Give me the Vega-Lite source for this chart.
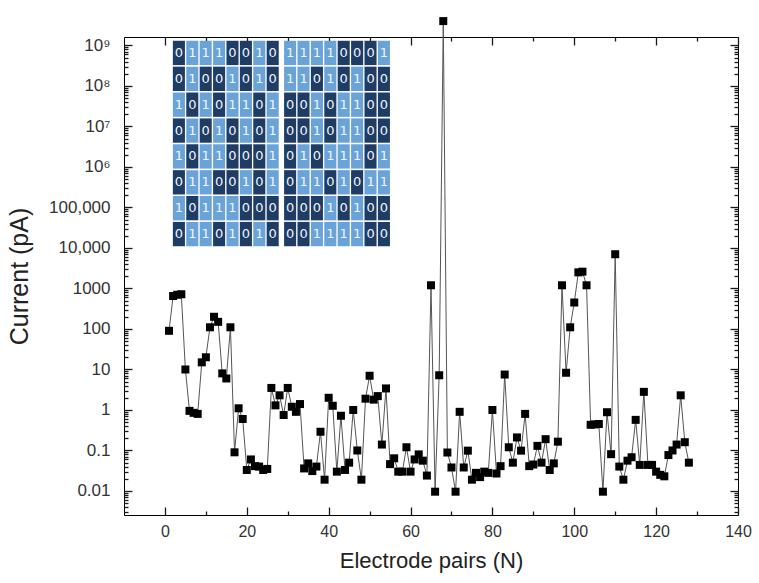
{
  "$schema": "https://vega.github.io/schema/vega-lite/v6.json",
  "width": 614,
  "height": 478,
  "autosize": "none",
  "padding": {"left": 124, "top": 37, "right": 21, "bottom": 68},
  "config": {
    "view": {"stroke": "black", "strokeWidth": 1},
    "font": "Liberation Sans",
    "axis": {"grid": false, "labelColor": "#333", "titleColor": "#222", "titleFontWeight": "normal", "labelOverlap": false}
  },
  "data": {"values": [
    {"pair":1,"current":90},{"pair":2,"current":650},{"pair":3,"current":700},{"pair":4,"current":720},{"pair":5,"current":10},{"pair":6,"current":0.95},{"pair":7,"current":0.85},{"pair":8,"current":0.8},{"pair":9,"current":15},{"pair":10,"current":20},
    {"pair":11,"current":110},{"pair":12,"current":200},{"pair":13,"current":150},{"pair":14,"current":8},{"pair":15,"current":6},{"pair":16,"current":110},{"pair":17,"current":0.09},{"pair":18,"current":1.1},{"pair":19,"current":0.6},{"pair":20,"current":0.033},
    {"pair":21,"current":0.06},{"pair":22,"current":0.041},{"pair":23,"current":0.04},{"pair":24,"current":0.033},{"pair":25,"current":0.035},{"pair":26,"current":3.5},{"pair":27,"current":1.3},{"pair":28,"current":2.3},{"pair":29,"current":0.75},{"pair":30,"current":3.5},
    {"pair":31,"current":1.2},{"pair":32,"current":0.9},{"pair":33,"current":1.4},{"pair":34,"current":0.036},{"pair":35,"current":0.048},{"pair":36,"current":0.031},{"pair":37,"current":0.04},{"pair":38,"current":0.29},{"pair":39,"current":0.019},{"pair":40,"current":2.0},
    {"pair":41,"current":1.27},{"pair":42,"current":0.03},{"pair":43,"current":0.72},{"pair":44,"current":0.033},{"pair":45,"current":0.05},{"pair":46,"current":1.0},{"pair":47,"current":0.1},{"pair":48,"current":0.019},{"pair":49,"current":1.9},{"pair":50,"current":7.0},
    {"pair":51,"current":1.8},{"pair":52,"current":2.2},{"pair":53,"current":0.14},{"pair":54,"current":3.4},{"pair":55,"current":0.046},{"pair":56,"current":0.064},{"pair":57,"current":0.03},{"pair":58,"current":0.03},{"pair":59,"current":0.12},{"pair":60,"current":0.03},
    {"pair":61,"current":0.06},{"pair":62,"current":0.08},{"pair":63,"current":0.056},{"pair":64,"current":0.024},{"pair":65,"current":1200},{"pair":66,"current":0.0096},{"pair":67,"current":7.2},{"pair":68,"current":4000000000},{"pair":69,"current":0.089},{"pair":70,"current":0.038},
    {"pair":71,"current":0.0096},{"pair":72,"current":0.9},{"pair":73,"current":0.038},{"pair":74,"current":0.099},{"pair":75,"current":0.019},{"pair":76,"current":0.028},{"pair":77,"current":0.022},{"pair":78,"current":0.03},{"pair":79,"current":0.028},{"pair":80,"current":1.0},
    {"pair":81,"current":0.027},{"pair":82,"current":0.041},{"pair":83,"current":7.5},{"pair":84,"current":0.12},{"pair":85,"current":0.05},{"pair":86,"current":0.21},{"pair":87,"current":0.099},{"pair":88,"current":0.8},{"pair":89,"current":0.041},{"pair":90,"current":0.045},
    {"pair":91,"current":0.13},{"pair":92,"current":0.05},{"pair":93,"current":0.19},{"pair":94,"current":0.033},{"pair":95,"current":0.048},{"pair":96,"current":0.165},{"pair":97,"current":1200},{"pair":98,"current":8.3},{"pair":99,"current":110},{"pair":100,"current":450},
    {"pair":101,"current":2500},{"pair":102,"current":2600},{"pair":103,"current":1200},{"pair":104,"current":0.43},{"pair":105,"current":0.44},{"pair":106,"current":0.45},{"pair":107,"current":0.0096},{"pair":108,"current":0.88},{"pair":109,"current":0.081},{"pair":110,"current":7000},
    {"pair":111,"current":0.04},{"pair":112,"current":0.019},{"pair":113,"current":0.056},{"pair":114,"current":0.068},{"pair":115,"current":0.57},{"pair":116,"current":0.044},{"pair":117,"current":2.8},{"pair":118,"current":0.044},{"pair":119,"current":0.044},{"pair":120,"current":0.03},
    {"pair":121,"current":0.025},{"pair":122,"current":0.023},{"pair":123,"current":0.077},{"pair":124,"current":0.1},{"pair":125,"current":0.14},{"pair":126,"current":2.3},{"pair":127,"current":0.16},{"pair":128,"current":0.05}
  ]},
  "datasets": {
    "bits": [
      {"r":0,"c":0,"b":"0"},{"r":0,"c":1,"b":"1"},{"r":0,"c":2,"b":"1"},{"r":0,"c":3,"b":"1"},{"r":0,"c":4,"b":"0"},{"r":0,"c":5,"b":"0"},{"r":0,"c":6,"b":"1"},{"r":0,"c":7,"b":"0"},{"r":0,"c":8,"b":"1"},{"r":0,"c":9,"b":"1"},{"r":0,"c":10,"b":"1"},{"r":0,"c":11,"b":"1"},{"r":0,"c":12,"b":"0"},{"r":0,"c":13,"b":"0"},{"r":0,"c":14,"b":"0"},{"r":0,"c":15,"b":"1"},
      {"r":1,"c":0,"b":"0"},{"r":1,"c":1,"b":"1"},{"r":1,"c":2,"b":"0"},{"r":1,"c":3,"b":"0"},{"r":1,"c":4,"b":"1"},{"r":1,"c":5,"b":"0"},{"r":1,"c":6,"b":"1"},{"r":1,"c":7,"b":"0"},{"r":1,"c":8,"b":"1"},{"r":1,"c":9,"b":"1"},{"r":1,"c":10,"b":"0"},{"r":1,"c":11,"b":"1"},{"r":1,"c":12,"b":"0"},{"r":1,"c":13,"b":"1"},{"r":1,"c":14,"b":"0"},{"r":1,"c":15,"b":"0"},
      {"r":2,"c":0,"b":"1"},{"r":2,"c":1,"b":"0"},{"r":2,"c":2,"b":"1"},{"r":2,"c":3,"b":"0"},{"r":2,"c":4,"b":"1"},{"r":2,"c":5,"b":"1"},{"r":2,"c":6,"b":"0"},{"r":2,"c":7,"b":"1"},{"r":2,"c":8,"b":"0"},{"r":2,"c":9,"b":"0"},{"r":2,"c":10,"b":"1"},{"r":2,"c":11,"b":"0"},{"r":2,"c":12,"b":"1"},{"r":2,"c":13,"b":"1"},{"r":2,"c":14,"b":"0"},{"r":2,"c":15,"b":"0"},
      {"r":3,"c":0,"b":"0"},{"r":3,"c":1,"b":"1"},{"r":3,"c":2,"b":"0"},{"r":3,"c":3,"b":"1"},{"r":3,"c":4,"b":"0"},{"r":3,"c":5,"b":"1"},{"r":3,"c":6,"b":"0"},{"r":3,"c":7,"b":"1"},{"r":3,"c":8,"b":"0"},{"r":3,"c":9,"b":"0"},{"r":3,"c":10,"b":"1"},{"r":3,"c":11,"b":"0"},{"r":3,"c":12,"b":"1"},{"r":3,"c":13,"b":"1"},{"r":3,"c":14,"b":"0"},{"r":3,"c":15,"b":"0"},
      {"r":4,"c":0,"b":"1"},{"r":4,"c":1,"b":"0"},{"r":4,"c":2,"b":"1"},{"r":4,"c":3,"b":"1"},{"r":4,"c":4,"b":"0"},{"r":4,"c":5,"b":"0"},{"r":4,"c":6,"b":"0"},{"r":4,"c":7,"b":"1"},{"r":4,"c":8,"b":"0"},{"r":4,"c":9,"b":"1"},{"r":4,"c":10,"b":"0"},{"r":4,"c":11,"b":"1"},{"r":4,"c":12,"b":"1"},{"r":4,"c":13,"b":"1"},{"r":4,"c":14,"b":"0"},{"r":4,"c":15,"b":"1"},
      {"r":5,"c":0,"b":"0"},{"r":5,"c":1,"b":"1"},{"r":5,"c":2,"b":"1"},{"r":5,"c":3,"b":"0"},{"r":5,"c":4,"b":"0"},{"r":5,"c":5,"b":"1"},{"r":5,"c":6,"b":"0"},{"r":5,"c":7,"b":"1"},{"r":5,"c":8,"b":"0"},{"r":5,"c":9,"b":"1"},{"r":5,"c":10,"b":"1"},{"r":5,"c":11,"b":"0"},{"r":5,"c":12,"b":"1"},{"r":5,"c":13,"b":"0"},{"r":5,"c":14,"b":"1"},{"r":5,"c":15,"b":"1"},
      {"r":6,"c":0,"b":"1"},{"r":6,"c":1,"b":"0"},{"r":6,"c":2,"b":"1"},{"r":6,"c":3,"b":"1"},{"r":6,"c":4,"b":"1"},{"r":6,"c":5,"b":"0"},{"r":6,"c":6,"b":"0"},{"r":6,"c":7,"b":"0"},{"r":6,"c":8,"b":"0"},{"r":6,"c":9,"b":"0"},{"r":6,"c":10,"b":"0"},{"r":6,"c":11,"b":"1"},{"r":6,"c":12,"b":"0"},{"r":6,"c":13,"b":"1"},{"r":6,"c":14,"b":"0"},{"r":6,"c":15,"b":"0"},
      {"r":7,"c":0,"b":"0"},{"r":7,"c":1,"b":"1"},{"r":7,"c":2,"b":"1"},{"r":7,"c":3,"b":"0"},{"r":7,"c":4,"b":"1"},{"r":7,"c":5,"b":"0"},{"r":7,"c":6,"b":"1"},{"r":7,"c":7,"b":"0"},{"r":7,"c":8,"b":"0"},{"r":7,"c":9,"b":"0"},{"r":7,"c":10,"b":"1"},{"r":7,"c":11,"b":"1"},{"r":7,"c":12,"b":"1"},{"r":7,"c":13,"b":"1"},{"r":7,"c":14,"b":"0"},{"r":7,"c":15,"b":"0"}
    ]
  },
  "layer": [
    {
      "mark": {"type": "line", "color": "#555", "strokeWidth": 1},
      "encoding": {
        "x": {"field": "pair", "type": "quantitative", "scale": {"domain": [-10, 140], "nice": false, "zero": false},
          "axis": {"orient": "bottom", "title": "Electrode pairs (N)", "titleFontSize": 22, "titlePadding": 11, "values": [0,20,40,60,80,100,120,140],
            "labelFontSize": 16, "labelPadding": 8, "labelFlush": false, "tickSize": 8, "offset": -8, "tickColor": "#1a1a1a", "tickWidth": 1.3, "domainOpacity": 0}},
        "y": {"field": "current", "type": "quantitative", "scale": {"type": "log", "domain": [0.00255, 1620000000], "nice": false},
          "axis": {"orient": "left", "title": "Current (pA)", "titleFontSize": 25, "titlePadding": 16,
            "values": [0.01,0.1,1,10,100,1000,10000,100000,1000000,10000000,100000000,1000000000],
            "labelExpr": "datum.value==1e9?'10⁹':datum.value==1e8?'10⁸':datum.value==1e7?'10⁷':datum.value==1e6?'10⁶':datum.value==1e5?'100,000':datum.value==1e4?'10,000':datum.value==1000?'1000':datum.value==100?'100':datum.value==10?'10':datum.value==1?'1':datum.value==0.1?'0.1':datum.value==0.01?'0.01':''",
            "labelFontSize": 17, "labelPadding": 14, "tickSize": 8, "offset": -8, "tickColor": "#1a1a1a", "tickWidth": 1.3, "domainOpacity": 0}}
      }
    },
    {
      "data": {"name": "bits"},
      "transform": [
        {"calculate": "1.775 + 3.2736 * (datum.c + (datum.c >= 8 ? 0.3 : 0) + 0.05)", "as": "xa"},
        {"calculate": "1.775 + 3.2736 * (datum.c + (datum.c >= 8 ? 0.3 : 0) + 0.95)", "as": "xb"},
        {"calculate": "pow(10, 9.1354 - 0.6389 * (datum.r + 0.03))", "as": "ya"},
        {"calculate": "pow(10, 9.1354 - 0.6389 * (datum.r + 0.97))", "as": "yb"}
      ],
      "mark": {"type": "rect"},
      "encoding": {
        "x": {"field": "xa", "type": "quantitative", "axis": null},
        "x2": {"field": "xb"},
        "y": {"field": "ya", "type": "quantitative", "axis": null},
        "y2": {"field": "yb"},
        "color": {"field": "b", "type": "nominal", "scale": {"domain": ["0", "1"], "range": ["#1e3c64", "#6aa3d8"]}, "legend": null}
      }
    },
    {
      "data": {"name": "bits"},
      "transform": [
        {"calculate": "1.775 + 3.2736 * (datum.c + (datum.c >= 8 ? 0.3 : 0) + 0.5)", "as": "xm"},
        {"calculate": "pow(10, 9.1354 - 0.6389 * (datum.r + 0.5))", "as": "ym"}
      ],
      "mark": {"type": "text", "fontSize": 13, "color": "#eef5ff", "font": "DejaVu Sans", "align": "center", "baseline": "middle"},
      "encoding": {
        "x": {"field": "xm", "type": "quantitative", "axis": null},
        "y": {"field": "ym", "type": "quantitative", "axis": null},
        "text": {"field": "b"}
      }
    },
    {
      "mark": {"type": "square", "color": "black", "size": 64, "opacity": 1, "filled": true},
      "encoding": {
        "x": {"field": "pair", "type": "quantitative",
          "axis": {"orient": "top", "title": null, "labels": false, "domainOpacity": 0, "tickColor": "#1a1a1a", "tickWidth": 1.3, "values": [0,20,40,60,80,100,120,140], "tickSize": 8, "offset": -8}},
        "y": {"field": "current", "type": "quantitative",
          "axis": {"orient": "right", "title": null, "labels": false, "domainOpacity": 0, "tickColor": "#1a1a1a", "tickWidth": 1.3, "tickSize": 8, "offset": -8,
            "values": [0.01,0.1,1,10,100,1000,10000,100000,1000000,10000000,100000000,1000000000]}}
      }
    },
    {
      "mark": {"type": "point", "opacity": 0},
      "encoding": {
        "x": {"field": "pair", "type": "quantitative",
          "axis": {"orient": "bottom", "title": null, "labels": false, "domainOpacity": 0, "tickColor": "#1a1a1a", "tickWidth": 1.3, "values": [10,30,50,70,90,110,130], "tickSize": 4, "offset": -4}},
        "y": {"field": "current", "type": "quantitative",
          "axis": {"orient": "left", "title": null, "labels": false, "domainOpacity": 0, "tickColor": "#1a1a1a", "tickWidth": 1.3, "tickSize": 4, "offset": -4,
            "values": [0.003,0.004,0.005,0.006,0.007,0.008,0.009,0.02,0.03,0.04,0.05,0.06,0.07,0.08,0.09,0.2,0.3,0.4,0.5,0.6,0.7,0.8,0.9,2,3,4,5,6,7,8,9,20,30,40,50,60,70,80,90,200,300,400,500,600,700,800,900,2000,3000,4000,5000,6000,7000,8000,9000,20000,30000,40000,50000,60000,70000,80000,90000,200000,300000,400000,500000,600000,700000,800000,900000,2000000,3000000,4000000,5000000,6000000,7000000,8000000,9000000,20000000,30000000,40000000,50000000,60000000,70000000,80000000,90000000,200000000,300000000,400000000,500000000,600000000,700000000,800000000,900000000]}}
      }
    },
    {
      "mark": {"type": "point", "opacity": 0},
      "encoding": {
        "x": {"field": "pair", "type": "quantitative",
          "axis": {"orient": "top", "title": null, "labels": false, "domainOpacity": 0, "tickColor": "#1a1a1a", "tickWidth": 1.3, "values": [10,30,50,70,90,110,130], "tickSize": 4, "offset": -4}},
        "y": {"field": "current", "type": "quantitative",
          "axis": {"orient": "right", "title": null, "labels": false, "domainOpacity": 0, "tickColor": "#1a1a1a", "tickWidth": 1.3, "tickSize": 4, "offset": -4,
            "values": [0.003,0.004,0.005,0.006,0.007,0.008,0.009,0.02,0.03,0.04,0.05,0.06,0.07,0.08,0.09,0.2,0.3,0.4,0.5,0.6,0.7,0.8,0.9,2,3,4,5,6,7,8,9,20,30,40,50,60,70,80,90,200,300,400,500,600,700,800,900,2000,3000,4000,5000,6000,7000,8000,9000,20000,30000,40000,50000,60000,70000,80000,90000,200000,300000,400000,500000,600000,700000,800000,900000,2000000,3000000,4000000,5000000,6000000,7000000,8000000,9000000,20000000,30000000,40000000,50000000,60000000,70000000,80000000,90000000,200000000,300000000,400000000,500000000,600000000,700000000,800000000,900000000]}}
      }
    }
  ],
  "resolve": {"axis": {"x": "independent", "y": "independent"}}
}
